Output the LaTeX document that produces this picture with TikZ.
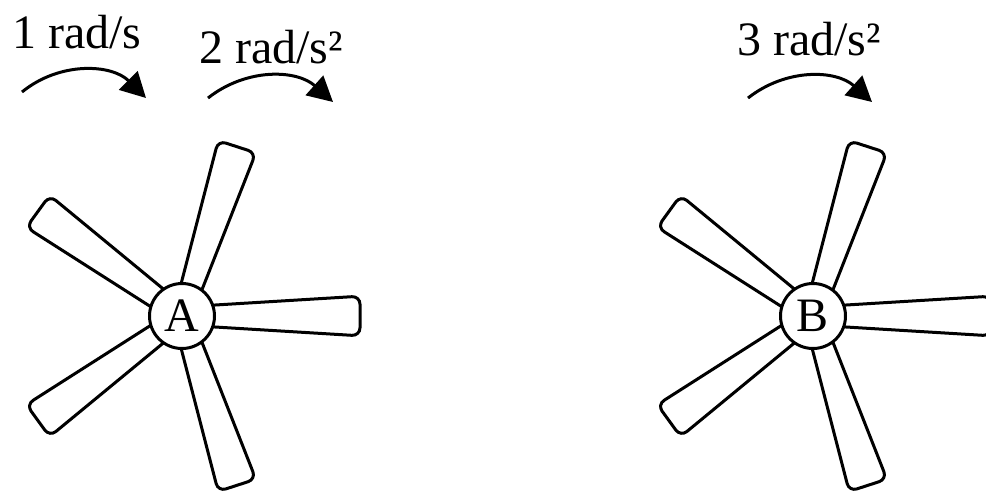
\documentclass[tikz,border=0pt]{standalone}
\usepackage{fontspec}
\setmainfont{Liberation Serif}
\usetikzlibrary{arrows.meta}
\tikzstyle{hub} = [circle, minimum size=32.5pt, inner sep=0pt, draw=black, line width=1.5pt, fill=white]
\tikzstyle{blade} = [draw=black, line width=1.5pt, fill=white, rounded corners=4pt]
\tikzstyle{rate} = [anchor=base, inner sep=0pt]
\tikzstyle{turn} = [line width=1.5pt,-{Triangle[length=12.5pt,width=13pt]}]

\begin{document}
\begin{tikzpicture}[x=0.5pt, y=-0.5pt, font=\fontsize{24}{28}\selectfont]
    \clip (0,0) rectangle (986,495);

    \foreach \x in {182,813}
      \foreach \a in {0,72,...,288}
        \draw[blade, shift={(\x,316)}, rotate=\a] (20,-10.2) -- (178,-19.8) -- (178,19.8) -- (20,10.2) -- cycle;

    \node (A) [hub] at (182,316) {A};
    \node (B) [hub] at (813,316) {B};

    \node (w1) [rate] at (77,48) {1 rad/s};
    \node (al2) [rate] at (271,63) {2 rad/s²};
    \node (al3) [rate] at (809,55) {3 rad/s²};

    \coordinate (w1s) at (22,92);
    \coordinate (w1e) at (146,98);
    \coordinate (al2s) at (208,98);
    \coordinate (al2e) at (333,102);
    \coordinate (al3s) at (748,98);
    \coordinate (al3e) at (872,102);

    \draw[turn] (w1s) to[bend left=42] (w1e);
    \draw[turn] (al2s) to[bend left=40] (al2e);
    \draw[turn] (al3s) to[bend left=40] (al3e);
  \end{tikzpicture}
\end{document}
